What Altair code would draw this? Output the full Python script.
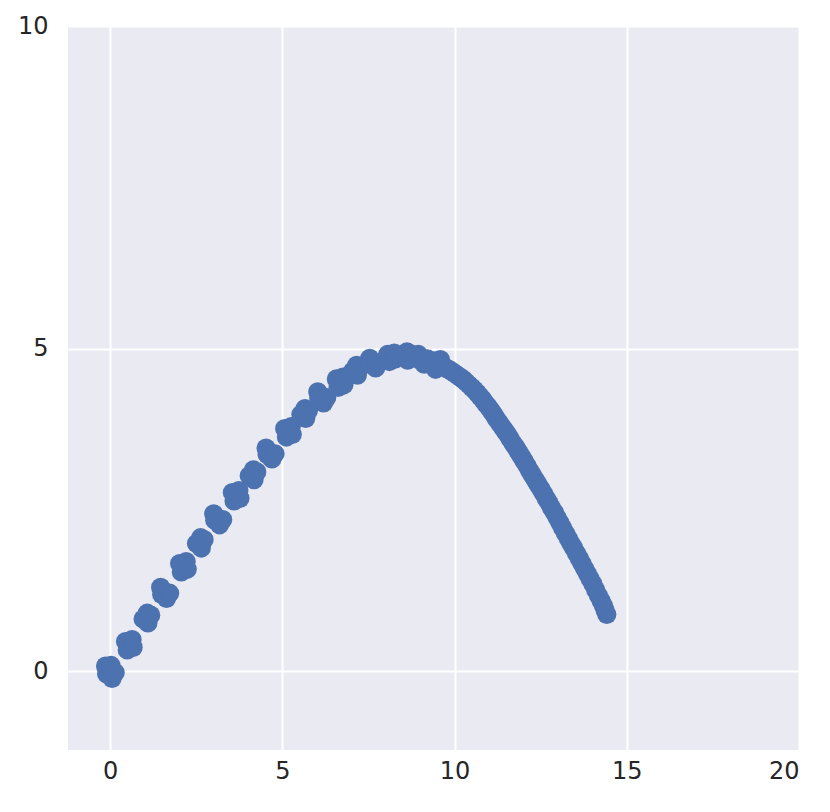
import altair as alt
import pandas as pd

# Early part: clusters of points along the rising branch
rise_x = [
    -0.13, -0.10, 0.06, 0.15, 0.03,
    0.45, 0.64, 0.50, 0.67,
    0.96, 1.08, 1.18, 1.10,
    1.47, 1.50, 1.64, 1.73,
    2.02, 2.21, 2.07, 2.24,
    2.51, 2.63, 2.73, 2.65,
    3.01, 3.04, 3.18, 3.27,
    3.55, 3.74, 3.60, 3.77,
    4.04, 4.16, 4.26, 4.18,
    4.53, 4.56, 4.70, 4.79,
    5.07, 5.26, 5.12, 5.29,
    5.54, 5.66, 5.76, 5.68,
    6.03, 6.06, 6.20, 6.29,
    6.57, 6.76, 6.62, 6.79,
    7.04, 7.16, 7.26, 7.18,
    7.54, 7.57, 7.71, 7.80,
    8.06, 8.25, 8.11, 8.28,
    8.50, 8.62, 8.72, 8.64,
    8.95, 8.98, 9.12, 9.21,
    9.40, 9.59, 9.45, 9.62,
]
rise_y = [
    0.08, -0.04, -0.11, -0.02, 0.09,
    0.46, 0.49, 0.33, 0.37,
    0.81, 0.90, 0.87, 0.75,
    1.30, 1.19, 1.13, 1.21,
    1.67, 1.70, 1.54, 1.58,
    1.98, 2.07, 2.04, 1.91,
    2.44, 2.34, 2.27, 2.35,
    2.77, 2.80, 2.64, 2.68,
    3.03, 3.12, 3.09, 2.97,
    3.46, 3.36, 3.29, 3.37,
    3.76, 3.79, 3.63, 3.67,
    3.98, 4.07, 4.04, 3.92,
    4.33, 4.23, 4.16, 4.24,
    4.53, 4.56, 4.40, 4.44,
    4.65, 4.74, 4.71, 4.59,
    4.85, 4.77, 4.70, 4.78,
    4.91, 4.93, 4.80, 4.84,
    4.88, 4.95, 4.92, 4.82,
    4.91, 4.83, 4.76, 4.84,
    4.81, 4.83, 4.68, 4.72,
]

# Later part: dense points along the falling branch
fall_x = [
    9.70, 9.78, 9.86, 9.94, 10.02, 10.10, 10.18, 10.26, 10.34, 10.42,
    10.50, 10.58, 10.66, 10.74, 10.82, 10.90, 10.98, 11.06, 11.14, 11.22,
    11.30, 11.38, 11.46, 11.54, 11.62, 11.70, 11.78, 11.86, 11.94, 12.02,
    12.10, 12.18, 12.26, 12.34, 12.42, 12.50, 12.58, 12.66, 12.74, 12.82,
    12.90, 12.98, 13.06, 13.14, 13.22, 13.30, 13.38, 13.46, 13.54, 13.62,
    13.70, 13.78, 13.86, 13.94, 14.02, 14.10, 14.18, 14.26, 14.32, 14.37,
    14.42,
]
fall_y = [
    4.72, 4.69, 4.67, 4.64, 4.61, 4.58, 4.55, 4.52, 4.48, 4.44,
    4.40, 4.36, 4.31, 4.26, 4.21, 4.15, 4.10, 4.04, 3.98, 3.91,
    3.85, 3.79, 3.73, 3.67, 3.60, 3.53, 3.47, 3.40, 3.33, 3.26,
    3.19, 3.11, 3.04, 2.97, 2.90, 2.83, 2.76, 2.68, 2.61, 2.53,
    2.46, 2.38, 2.30, 2.22, 2.14, 2.06, 1.98, 1.91, 1.83, 1.75,
    1.67, 1.59, 1.51, 1.43, 1.35, 1.26, 1.17, 1.09, 1.02, 0.95,
    0.88,
]

x_ticks = [0, 5, 10, 15, 20]
y_ticks = [0, 5, 10]

df = pd.DataFrame({"x": rise_x + fall_x, "y": rise_y + fall_y})

axis_common = dict(
    grid=True,
    gridColor="white",
    gridWidth=2,
    domain=False,
    ticks=False,
    labelFont="DejaVu Sans",
    labelFontSize=24,
    labelColor="#262626",
    title=None,
)

chart = (
    alt.Chart(df)
    .mark_circle(size=370, color="#4C72B0", opacity=1)
    .encode(
        x=alt.X(
            "x:Q",
            scale=alt.Scale(domain=[-1.22, 20], nice=False, zero=False),
            axis=alt.Axis(values=x_ticks, labelPadding=9, **axis_common),
        ),
        y=alt.Y(
            "y:Q",
            scale=alt.Scale(domain=[-1.22, 10], nice=False, zero=False),
            axis=alt.Axis(values=y_ticks, labelPadding=20, **axis_common),
        ),
    )
    .properties(
        width=731,
        height=724,
        autosize="none",
        padding={"left": 60, "top": 18, "right": 20, "bottom": 50},
        background="white",
    )
    .configure_view(fill="#EAEAF2", stroke=None)
)

chart.save("out.html", embed_options={"renderer": "svg", "actions": False})
